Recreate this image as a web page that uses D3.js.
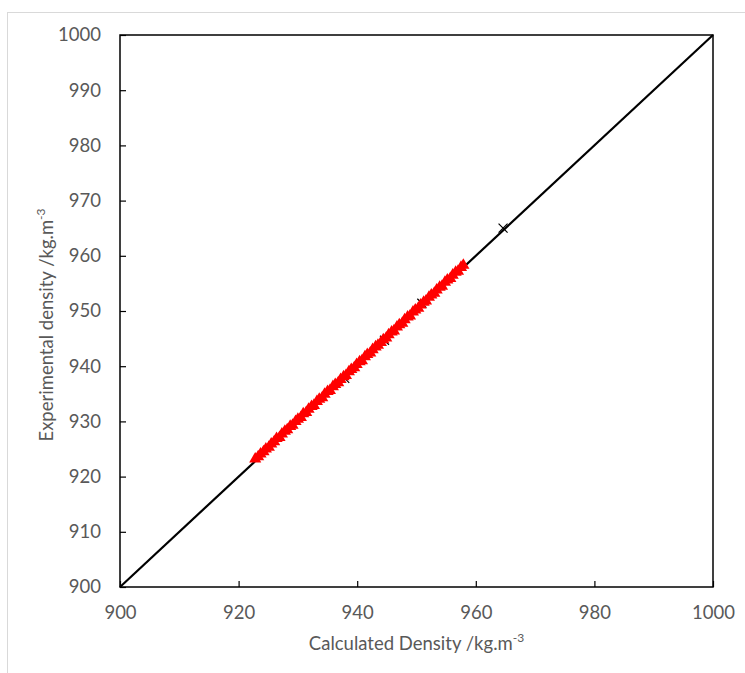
<!DOCTYPE html>
<html>
<head>
<meta charset="utf-8">
<script src="https://cdn.jsdelivr.net/npm/d3@7"></script>
<style>
  body { margin: 0; background: #fff; }
  text { font-family: Lato, "Open Sans", sans-serif; fill: #595959; }
</style>
</head>
<body>
<svg id="chart" width="745" height="673"></svg>
<script>
"use strict";

var X_DOMAIN = [900, 1000];
var Y_DOMAIN = [900, 1000];
var X_TICKS = [900, 920, 940, 960, 980, 1000];
var Y_TICKS = [900, 910, 920, 930, 940, 950, 960, 970, 980, 990, 1000];

// red triangles: calculated vs experimental
var CALC = [922.8, 923.3, 923.7, 924.2, 924.6, 925.1, 925.5, 926.0, 926.4, 926.9,
    927.3, 927.8, 928.2, 928.7, 929.1, 929.6, 930.0, 930.5, 930.9, 931.4,
    931.8, 932.3, 932.7, 933.2, 933.6, 934.1, 934.5, 935.0, 935.4, 935.9,
    936.3, 936.8, 937.2, 937.7, 938.1, 938.6, 939.0, 939.5, 939.9, 940.4,
    940.8, 941.3, 941.7, 942.2, 942.6, 943.1, 943.5, 944.0, 944.4, 944.9,
    945.3, 945.8, 946.2, 946.7, 947.1, 947.6, 948.0, 948.5, 948.9, 949.4,
    949.8, 950.3, 950.7, 951.2, 951.6, 952.1, 952.5, 953.0, 953.4, 953.9,
    954.3, 954.8, 955.2, 955.7, 956.1, 956.6, 957.0, 957.5, 957.9];
var EXP = [923.2, 923.6, 924.1, 924.5, 925.0, 925.3, 925.9, 926.3, 926.9, 927.1,
    927.7, 928.2, 928.5, 929.1, 929.3, 930.0, 930.4, 930.7, 931.4, 931.6,
    932.2, 932.7, 932.9, 933.6, 934.0, 934.3, 934.9, 935.4, 935.6, 936.3,
    936.7, 937.0, 937.6, 938.1, 938.3, 939.0, 939.4, 939.7, 940.3, 940.8,
    941.0, 941.7, 942.1, 942.4, 943.0, 943.5, 943.8, 944.3, 944.8, 945.1,
    945.7, 946.2, 946.4, 947.1, 947.5, 947.8, 948.4, 948.9, 949.1, 949.8,
    950.2, 950.5, 951.1, 951.6, 951.8, 952.5, 952.9, 953.2, 953.8, 954.3,
    954.5, 955.2, 955.6, 955.9, 956.5, 957.0, 957.2, 957.9, 958.3];

// black crosses
var CALC2 = [937.9, 944.6, 950.9, 964.6];
var EXP2 = [937.8, 944.7, 951.4, 965.0];

// y = x reference line
var LINE = [900, 1000];

var XLABEL = "Calculated Density /kg.m";
var YLABEL = "Experimental density /kg.m";
var UNIT_SUP = "-3";

var FONT = 18.5;

var margin = {top: 35, right: 32, bottom: 86, left: 120};
var width = 745 - margin.left - margin.right;
var height = 673 - margin.top - margin.bottom;

var svg = d3.select("#chart");

// outer chart border
svg.append("rect")
    .attr("x", 7.5).attr("y", 12.5)
    .attr("width", 760).attr("height", 700)
    .attr("fill", "none")
    .attr("stroke", "#d9d9d9")
    .attr("stroke-width", 1);

var g = svg.append("g")
    .attr("transform", "translate(" + margin.left + "," + margin.top + ")");

var x = d3.scaleLinear().domain(X_DOMAIN).range([0, width]);
var y = d3.scaleLinear().domain(Y_DOMAIN).range([height, 0]);

var gx = g.append("g")
    .attr("transform", "translate(0," + height + ")")
    .call(d3.axisBottom(x).tickValues(X_TICKS).tickFormat(d3.format("d"))
        .tickSizeInner(-6).tickSizeOuter(0).tickPadding(19));
var gy = g.append("g")
    .call(d3.axisLeft(y).tickValues(Y_TICKS).tickFormat(d3.format("d"))
        .tickSizeInner(-6).tickSizeOuter(0).tickPadding(19));
[gx, gy].forEach(function(a) {
    a.select(".domain").remove();
    a.selectAll(".tick line").attr("stroke", "#000").attr("stroke-width", 1.2);
    a.selectAll(".tick text").attr("font-size", FONT).style("fill", "#595959");
    a.attr("font-family", null).attr("font-size", null);
});

// plot box
g.append("rect")
    .attr("width", width).attr("height", height)
    .attr("fill", "none")
    .attr("stroke", "#000")
    .attr("stroke-width", 1.5);

// diagonal
g.append("path")
    .datum(LINE)
    .attr("fill", "none")
    .attr("stroke", "#000")
    .attr("stroke-width", 2.2)
    .attr("d", d3.line().x(function(d) { return x(d); }).y(function(d) { return y(d); }));

// crosses
var cross = "M-4.5,-4.5L4.5,4.5M-4.5,4.5L4.5,-4.5";
g.append("g").selectAll("path")
    .data(d3.range(CALC2.length))
    .enter().append("path")
        .attr("d", cross)
        .attr("fill", "none")
        .attr("stroke", "#000")
        .attr("stroke-width", 1.2)
        .attr("transform", function(i) { return "translate(" + x(CALC2[i]) + "," + y(EXP2[i]) + ")"; });

// triangles
var tri = d3.symbol().type(d3.symbolTriangle).size(64);
g.append("g").selectAll("path")
    .data(d3.range(CALC.length))
    .enter().append("path")
        .attr("d", tri)
        .attr("fill", "#ff0000")
        .attr("transform", function(i) { return "translate(" + x(CALC[i]) + "," + y(EXP[i]) + ")"; });

// axis titles
var xt = svg.append("text")
    .attr("x", margin.left + width / 2)
    .attr("y", 650)
    .attr("text-anchor", "middle")
    .attr("font-size", FONT);
xt.append("tspan").text(XLABEL);
xt.append("tspan").attr("font-size", 12).attr("dy", -8).text(UNIT_SUP);

var yt = svg.append("text")
    .attr("transform", "translate(53,325) rotate(-90)")
    .attr("text-anchor", "middle")
    .attr("font-size", FONT);
yt.append("tspan").text(YLABEL);
yt.append("tspan").attr("font-size", 12).attr("dy", -8).text(UNIT_SUP);
</script>
</body>
</html>
